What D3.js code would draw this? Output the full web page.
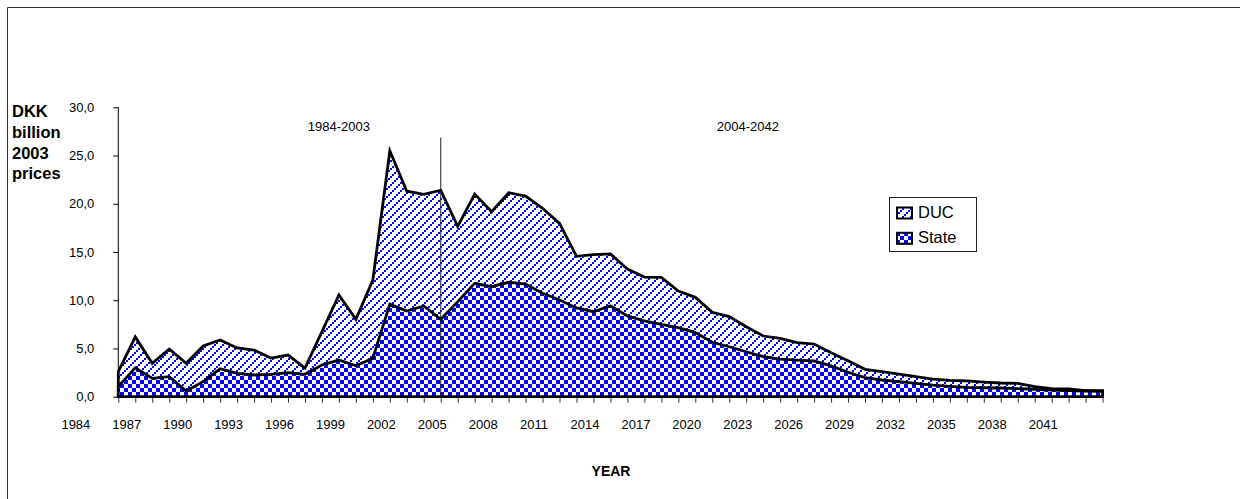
<!DOCTYPE html>
<html>
<head>
<meta charset="utf-8">
<script src="https://cdn.jsdelivr.net/npm/d3@7"></script>
<style>
  body { margin: 0; background: #fff; }
  svg { display: block; }
  text { font-family: Arial, "Liberation Sans", sans-serif; fill: #000; }
</style>
</head>
<body>
<svg id="chart" width="1240" height="499"></svg>
<script>
// Yearly categories
const years = d3.range(1984, 2043);

// State share, DKK billion (2003 prices)
const state = [1.04, 3.0, 1.9, 2.07, 0.59, 1.56, 2.9, 2.42, 2.25, 2.32,
  2.49, 2.32, 3.29, 3.8, 3.2, 3.98, 9.6, 8.88, 9.4, 8.02,
  9.85, 11.75, 11.4, 11.86, 11.68, 10.72, 10.02, 9.2, 8.81, 9.43,
  8.37, 7.85, 7.5, 7.16, 6.64, 5.64, 5.18, 4.66, 4.15, 3.9,
  3.8, 3.7, 3.2, 2.53, 1.97, 1.73, 1.56, 1.39, 1.21, 1.08,
  0.97, 0.93, 0.9, 0.83, 0.77, 0.69, 0.62, 0.59, 0.56];

// DUC share, stacked on top of the state share
const duc = [1.56, 3.2, 1.56, 2.87, 2.87, 3.7, 2.98, 2.63, 2.59, 1.68,
  1.83, 0.65, 3.45, 6.74, 4.82, 8.12, 15.9, 12.42, 11.58, 13.38,
  7.81, 9.25, 7.78, 9.29, 9.12, 8.81, 7.95, 5.35, 5.91, 5.37,
  4.87, 4.55, 4.87, 3.8, 3.66, 3.11, 3.12, 2.6, 2.14, 2.15,
  1.8, 1.76, 1.35, 1.2, 0.87, 0.87, 0.79, 0.68, 0.62, 0.62,
  0.66, 0.59, 0.52, 0.56, 0.27, 0.14, 0.18, 0.03, 0.06];

const seriesNames = ["DUC", "State"];
const yTickValues = [0, 5, 10, 15, 20, 25, 30];
const xTickLabels = d3.range(1984, 2042, 3);
const periodLabels = ["1984-2003", "2004-2042"];
const periodCentres = [1997, 2021.1];
const dividerYear = 2003;

const svg = d3.select("#chart");

// Fill patterns: blue checkerboard for State, dotted blue diagonals for DUC
const defs = svg.append("defs");
const checker = defs.append("pattern")
  .attr("id", "pat-state").attr("patternUnits", "userSpaceOnUse")
  .attr("width", 8).attr("height", 8);
checker.append("rect").attr("width", 8).attr("height", 8).attr("fill", "#fff");
checker.append("rect").attr("x", 0).attr("y", 0).attr("width", 4).attr("height", 4).attr("fill", "#0000ff");
checker.append("rect").attr("x", 4).attr("y", 4).attr("width", 4).attr("height", 4).attr("fill", "#0000ff");

const diag = defs.append("pattern")
  .attr("id", "pat-duc").attr("patternUnits", "userSpaceOnUse")
  .attr("width", 8).attr("height", 8);
diag.append("rect").attr("width", 8).attr("height", 8).attr("fill", "#fff");
[0, 2, 4, 6].forEach(k => {
  diag.append("rect").attr("x", k).attr("y", 6 - k).attr("width", 2).attr("height", 2)
    .attr("fill", "#0000ff").attr("shape-rendering", "crispEdges");
});

// Outer frame (left and top edges)
svg.append("path")
  .attr("d", "M7.5,499 V7.5 H1240")
  .attr("fill", "none").attr("stroke", "#333").attr("stroke-width", 1);

// Scales
const x = d3.scaleLinear().domain([1984, 2042]).range([118.3, 1102.6]);
const y = d3.scaleLinear().domain([0, 30]).range([396.7, 107.3]);

// Stacked data
const rows = years.map((yr, i) => ({ year: yr, State: state[i], DUC: duc[i] }));
const layers = d3.stack().keys(["State", "DUC"])(rows);

const fills = { State: "url(#pat-state)", DUC: "url(#pat-duc)" };

// Each band is drawn down to the baseline (DUC first, State over it) with a black outline
const band = d3.area()
  .x(d => x(d.data.year))
  .y0(y(0))
  .y1(d => y(d[1]));

["DUC", "State"].forEach(key => {
  const layer = layers.find(l => l.key === key);
  svg.append("path")
    .datum(layer)
    .attr("d", band)
    .attr("fill", fills[key])
    .attr("stroke", "#000")
    .attr("stroke-width", 2.8)
    .attr("stroke-linejoin", "miter");
});

// X axis ticks at every category
const xAxis = d3.axisBottom(x)
  .tickValues(years)
  .tickSize(5)
  .tickFormat("");
const gx = svg.append("g").attr("transform", `translate(0,${y(0) + 1})`).call(xAxis);
gx.select(".domain").remove();
gx.selectAll(".tick line").attr("stroke", "#333");

// X tick labels, centred between categories
svg.append("g").selectAll("text")
  .data(xTickLabels)
  .join("text")
  .attr("x", d => x(d - 2.5))
  .attr("y", 429)
  .attr("text-anchor", "middle")
  .attr("font-size", 13)
  .text(d => d);

// Y axis
const yAxis = d3.axisLeft(y)
  .tickValues(yTickValues)
  .tickSize(5)
  .tickPadding(19)
  .tickFormat(d => d3.format(".1f")(d).replace(".", ","));
const gy = svg.append("g").attr("transform", `translate(${x(1984)},0)`).call(yAxis);
gy.select(".domain").attr("stroke", "#000").attr("d", `M0,${y(30)}V${y(0)}`);
gy.selectAll(".tick line").attr("stroke", "#000");
gy.selectAll(".tick text").attr("font-size", 13).attr("font-family", "Arial, 'Liberation Sans', sans-serif").attr("fill", "#000");

// Period divider and labels
svg.append("line")
  .attr("x1", x(dividerYear)).attr("x2", x(dividerYear))
  .attr("y1", 137.5).attr("y2", y(0))
  .attr("stroke", "#222").attr("stroke-width", 1);

svg.append("g").selectAll("text")
  .data(periodLabels)
  .join("text")
  .attr("x", (d, i) => x(periodCentres[i]))
  .attr("y", 130.5)
  .attr("text-anchor", "middle")
  .attr("font-size", 13)
  .text(d => d);

// Y axis title
const yTitle = svg.append("text")
  .attr("x", 12)
  .attr("font-size", 16.5)
  .attr("font-weight", "bold");
["DKK", "billion", "2003", "prices"].forEach((t, i) => {
  yTitle.append("tspan").attr("x", 12).attr("y", 117.3 + i * 20.7).text(t);
});

// X axis title
svg.append("text")
  .attr("x", 611).attr("y", 476)
  .attr("text-anchor", "middle")
  .attr("font-size", 14)
  .attr("font-weight", "bold")
  .text("YEAR");

// Legend
const legend = svg.append("g");
legend.append("rect")
  .attr("x", 889.5).attr("y", 197.5).attr("width", 87).attr("height", 54)
  .attr("fill", "#fff").attr("stroke", "#222").attr("stroke-width", 1);
seriesNames.forEach((name, i) => {
  const cy = 213.5 + i * 25.3;
  legend.append("rect")
    .attr("x", 897).attr("y", cy - 6).attr("width", 15).attr("height", 11)
    .attr("fill", fills[name]).attr("stroke", "#000").attr("stroke-width", 2);
  legend.append("text")
    .attr("x", 918).attr("y", cy + 4)
    .attr("font-size", 16.5)
    .text(name);
});
</script>
</body>
</html>
